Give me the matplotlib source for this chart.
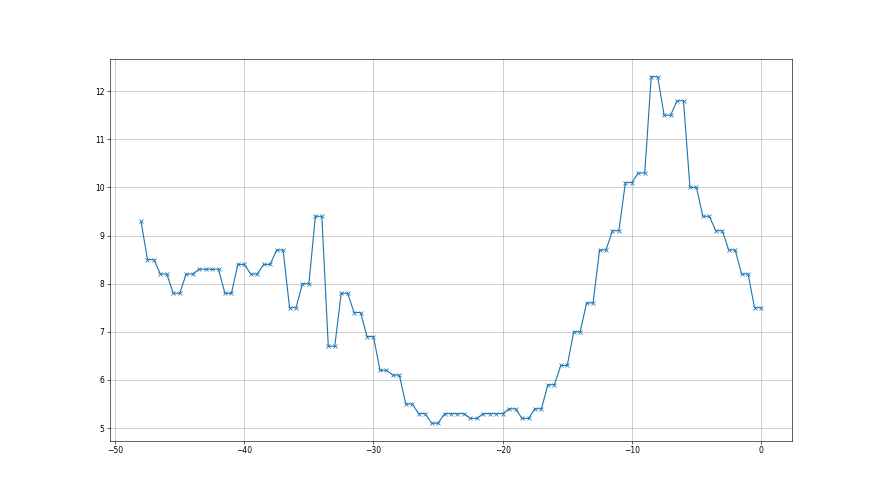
import matplotlib
matplotlib.use('Agg')
import matplotlib.pyplot as plt
import numpy as np

# first reading, then one value per pair of half-hour steps
first_x = -48
first_val = 9.3
pair_x = np.arange(-47, 1)  # pair ends at -47 ... 0
pair_vals = [8.5, 8.2, 7.8, 8.2, 8.3, 8.3, 7.8, 8.4, 8.2, 8.4,
             8.7, 7.5, 8.0, 9.4, 6.7, 7.8, 7.4, 6.9, 6.2, 6.1,
             5.5, 5.3, 5.1, 5.3, 5.3, 5.2, 5.3, 5.3, 5.4, 5.2,
             5.4, 5.9, 6.3, 7.0, 7.6, 8.7, 9.1, 10.1, 10.3, 12.3,
             11.5, 11.8, 10.0, 9.4, 9.1, 8.7, 8.2, 7.5]

x = [first_x]
y = [first_val]
for px, v in zip(pair_x, pair_vals):
    x += [px - 0.5, px]
    y += [v, v]

fig, ax = plt.subplots(figsize=(16, 9), dpi=55)
ax.plot(x, y, marker='x')
ax.grid(True)

fig.savefig('out.png', dpi=55)
